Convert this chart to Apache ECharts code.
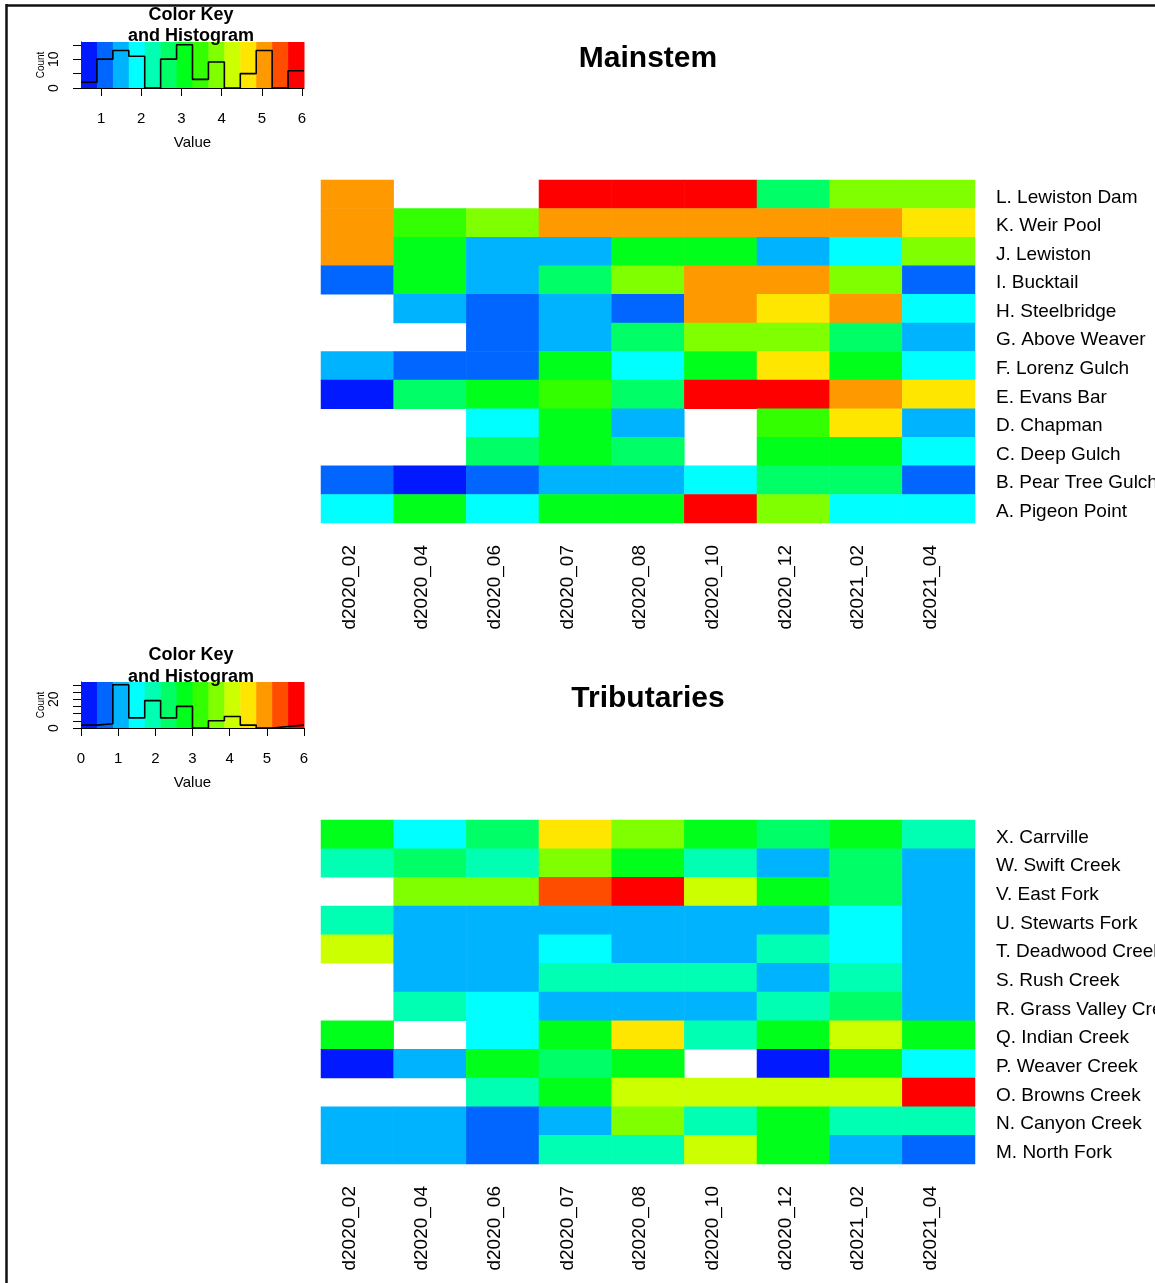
<!DOCTYPE html>
<html>
<head>
<meta charset="utf-8">
<script src="https://cdn.jsdelivr.net/npm/echarts@6/dist/echarts.min.js"></script>
<style>
  html, body { margin: 0; padding: 0; background: #fff; }
  #chart { width: 1155px; height: 1283px; }
</style>
</head>
<body>
<div id="chart"></div>
<script>
// Sampling dates (columns of both heatmaps)
const dates = ['d2020_02', 'd2020_04', 'd2020_06', 'd2020_07', 'd2020_08',
               'd2020_10', 'd2020_12', 'd2021_02', 'd2021_04'];

// Mainstem sites, top to bottom
const mainRows = ['L. Lewiston Dam', 'K. Weir Pool', 'J. Lewiston', 'I. Bucktail',
                  'H. Steelbridge', 'G. Above Weaver', 'F. Lorenz Gulch', 'E. Evans Bar',
                  'D. Chapman', 'C. Deep Gulch', 'B. Pear Tree Gulch', 'A. Pigeon Point'];

// Mainstem values (null = not sampled)
const mainValues = [
  [5.02, null, null, 5.93, 5.81, 5.88, 2.71, 3.84, 3.90],
  [5.10, 3.41, 3.79, 5.05, 4.98, 5.12, 5.07, 4.95, 4.70],
  [5.15, 3.02, 1.52, 1.45, 3.11, 3.06, 1.40, 1.93, 3.95],
  [1.10, 3.14, 1.56, 2.66, 3.82, 5.01, 5.09, 3.88, 1.04],
  [null, 1.47, 1.13, 1.51, 1.08, 4.97, 4.62, 5.06, 1.85],
  [null, null, 1.02, 1.58, 2.59, 3.93, 3.86, 2.74, 1.43],
  [1.49, 1.15, 1.07, 3.00, 1.96, 3.17, 4.71, 3.09, 1.80],
  [0.50, 2.62, 3.04, 3.52, 2.77, 6.05, 5.90, 5.14, 4.58],
  [null, null, 1.88, 2.95, 1.55, null, 3.44, 4.66, 1.36],
  [null, null, 2.69, 3.21, 2.80, null, 3.12, 2.98, 1.99],
  [1.18, 0.79, 0.99, 1.62, 1.41, 2.02, 2.57, 2.83, 1.11],
  [1.91, 3.07, 1.83, 3.19, 3.03, 5.76, 3.99, 1.77, 2.04]
];

// Tributary sites, top to bottom
const tribRows = ['X. Carrville', 'W. Swift Creek', 'V. East Fork', 'U. Stewarts Fork',
                  'T. Deadwood Creek', 'S. Rush Creek', 'R. Grass Valley Creek', 'Q. Indian Creek',
                  'P. Weaver Creek', 'O. Browns Creek', 'N. Canyon Creek', 'M. North Fork'];

// Tributary values (null = not sampled)
const tribValues = [
  [2.78, 1.52, 2.35, 4.52, 3.66, 2.84, 2.41, 2.72, 1.93],
  [1.88, 2.30, 1.97, 3.61, 2.69, 2.02, 1.12, 2.26, 1.05],
  [null, 3.58, 3.70, 5.35, 6.00, 4.05, 2.88, 2.44, 0.98],
  [1.84, 1.07, 1.15, 0.94, 1.09, 1.20, 1.02, 1.49, 1.13],
  [4.12, 1.18, 1.03, 1.41, 0.96, 1.10, 2.07, 1.58, 1.16],
  [null, 1.01, 1.22, 1.95, 1.90, 2.05, 0.92, 1.79, 1.08],
  [null, 1.86, 1.63, 1.14, 1.06, 0.99, 2.10, 2.21, 1.19],
  [2.66, null, 1.37, 2.93, 4.41, 1.76, 2.75, 3.98, 2.62],
  [0.00, 1.24, 2.81, 2.49, 2.97, null, 0.18, 2.70, 1.55],
  [null, null, 2.00, 2.86, 4.20, 3.93, 4.08, 4.15, 5.84],
  [1.11, 0.90, 0.62, 1.25, 3.77, 1.82, 2.59, 2.09, 1.99],
  [1.04, 1.17, 0.71, 1.78, 2.08, 3.89, 2.90, 1.23, 0.55]
];

// Colour key: 14 rainbow steps, low (blue) to high (red)
const palette = ['#0019FF', '#0066FF', '#00B3FF', '#00FFFF', '#00FFB3', '#00FF66', '#00FF1A',
                 '#33FF00', '#80FF00', '#CCFF00', '#FFE600', '#FF9900', '#FF4D00', '#FF0000'];

// Key axis ticks
const mainKeyTicks = [1, 2, 3, 4, 5, 6];
const tribKeyTicks = [0, 1, 2, 3, 4, 5, 6];
const mainCountLabels = [0, 10];
const tribCountLabels = [0, 20];

const FONT = '"Liberation Sans", Arial, Helvetica, sans-serif';

function histogram(values, nBins) {
  const flat = values.flat().filter(v => v !== null);
  const min = Math.min(...flat), max = Math.max(...flat);
  const w = (max - min) / nBins;
  const edges = [];
  for (let k = 0; k <= nBins; k++) edges.push(min + k * w);
  edges[nBins] = max;
  const counts = new Array(nBins).fill(0);
  flat.forEach(v => {
    const k = Math.min(nBins - 1, Math.floor((v - min) / w));
    counts[k]++;
  });
  return { min, max, edges, counts };
}

function cells(values) {
  const out = [];
  values.forEach((row, r) => row.forEach((v, c) => {
    if (v !== null) out.push([c, r, v]);
  }));
  return out;
}

function pieces(h) {
  return palette.map((color, k) => k === palette.length - 1
    ? { gte: h.edges[k], lte: h.edges[k + 1] + 1e-9, color }
    : { gte: h.edges[k], lt: h.edges[k + 1], color });
}

const mainHist = histogram(mainValues, palette.length);
const tribHist = histogram(tribValues, palette.length);

function keyAxes(h, gridIndex, ticks, countLabels) {
  const yMax = Math.max(...h.counts) / 0.94;
  const x = {
    type: 'value', gridIndex, min: h.min, max: h.max,
    axisLine: { show: true, lineStyle: { color: '#000', width: 1 } },
    axisTick: { show: true, customValues: ticks, length: 8, lineStyle: { color: '#000', width: 1 } },
    axisLabel: { customValues: ticks, margin: 23, fontSize: 15, color: '#000', fontFamily: FONT },
    splitLine: { show: false },
    name: 'Value', nameLocation: 'middle', nameGap: 47,
    nameTextStyle: { fontSize: 15, color: '#000', fontFamily: FONT }
  };
  const y = {
    type: 'value', gridIndex, min: 0, max: yMax, interval: 5,
    axisLine: { show: true, lineStyle: { color: '#000', width: 1 } },
    axisTick: { show: true, length: 8, lineStyle: { color: '#000', width: 1 } },
    axisLabel: {
      rotate: 90, margin: 20, fontSize: 14, color: '#000', fontFamily: FONT,
      showMaxLabel: false,
      formatter: v => countLabels.includes(v) ? String(v) : ''
    },
    splitLine: { show: false },
    name: 'Count', nameLocation: 'middle', nameRotate: 90, nameGap: 34,
    nameTextStyle: { fontSize: 10, color: '#000', fontFamily: FONT }
  };
  return { x, y, yMax };
}

function keySeries(h, axisIndex, yMax) {
  const bands = {
    type: 'custom', xAxisIndex: axisIndex, yAxisIndex: axisIndex, silent: true,
    clip: false, z: 1,
    encode: { x: [0, 1], y: 2 },
    data: h.counts.map((_, k) => [h.edges[k], h.edges[k + 1], k]),
    renderItem: (params, api) => {
      const p0 = api.coord([api.value(0), yMax]);
      const p1 = api.coord([api.value(1), 0]);
      return {
        type: 'rect',
        shape: { x: p0[0], y: p0[1], width: p1[0] - p0[0] + 0.5, height: p1[1] - p0[1] },
        style: { fill: palette[api.value(2)] }
      };
    }
  };
  const stepPts = h.counts.map((c, k) => [h.edges[k], c]);
  stepPts.push([h.edges[h.edges.length - 1], h.counts[h.counts.length - 1]]);
  const line = {
    type: 'line', xAxisIndex: axisIndex, yAxisIndex: axisIndex, silent: true,
    step: 'end', showSymbol: false, symbol: 'none', clip: false, z: 3,
    lineStyle: { color: '#000', width: 1.6 },
    data: stepPts
  };
  return [bands, line];
}

function heatAxes(rows, gridIndex) {
  const x = {
    type: 'category', gridIndex, data: dates,
    axisLine: { show: false }, axisTick: { show: false }, splitLine: { show: false },
    axisLabel: {
      rotate: 90, margin: 22, fontSize: 19, color: '#000', fontFamily: FONT,
      interval: 0, verticalAlign: 'bottom', lineHeight: 16
    }
  };
  const y = {
    type: 'category', gridIndex, data: rows, inverse: true, position: 'right',
    axisLine: { show: false }, axisTick: { show: false }, splitLine: { show: false },
    axisLabel: {
      margin: 21, fontSize: 19, color: '#000', fontFamily: FONT, interval: 0,
      align: 'left', verticalAlign: 'top', lineHeight: 6
    }
  };
  return { x, y };
}

function heatSeries(values, axisIndex) {
  return {
    type: 'heatmap', xAxisIndex: axisIndex, yAxisIndex: axisIndex,
    data: cells(values), silent: true,
    itemStyle: { borderWidth: 0 },
    emphasis: { disabled: true }
  };
}

const mk = keyAxes(mainHist, 0, mainKeyTicks, mainCountLabels);
const mh = heatAxes(mainRows, 1);
const tk = keyAxes(tribHist, 2, tribKeyTicks, tribCountLabels);
const th = heatAxes(tribRows, 3);

function titleText(text, x, y, size) {
  return {
    type: 'text', x, y, z: 100,
    style: { text, fill: '#000', font: `bold ${size}px ${FONT}`, align: 'center', verticalAlign: 'middle' }
  };
}

const option = {
  animation: false,
  backgroundColor: '#fff',
  grid: [
    { left: 81, top: 42, width: 223, height: 46, outerBoundsMode: 'none', containLabel: false },
    { left: 321, top: 180, width: 654, height: 343, outerBoundsMode: 'none', containLabel: false },
    { left: 81, top: 682, width: 223, height: 46, outerBoundsMode: 'none', containLabel: false },
    { left: 321, top: 820, width: 654, height: 344, outerBoundsMode: 'none', containLabel: false }
  ],
  xAxis: [mk.x, mh.x, tk.x, th.x],
  yAxis: [mk.y, mh.y, tk.y, th.y],
  visualMap: [
    { type: 'piecewise', show: false, seriesIndex: 2, dimension: 2, pieces: pieces(mainHist) },
    { type: 'piecewise', show: false, seriesIndex: 5, dimension: 2, pieces: pieces(tribHist) }
  ],
  series: [
    ...keySeries(mainHist, 0, mk.yMax),
    heatSeries(mainValues, 1),
    ...keySeries(tribHist, 2, tk.yMax),
    heatSeries(tribValues, 3)
  ],
  graphic: [
    titleText('Color Key', 191, 15, 18),
    titleText('and Histogram', 191, 36, 18),
    titleText('Mainstem', 648, 59, 30),
    titleText('Color Key', 191, 655, 18),
    titleText('and Histogram', 191, 677, 18),
    titleText('Tributaries', 648, 699, 30),
    { type: 'line', z: 100, shape: { x1: 6, y1: 5.5, x2: 1155, y2: 5.5 }, style: { stroke: '#111', lineWidth: 2.5 } },
    { type: 'line', z: 100, shape: { x1: 6.5, y1: 4, x2: 6.5, y2: 1283 }, style: { stroke: '#111', lineWidth: 2.5 } }
  ]
};

const chart = echarts.init(document.getElementById('chart'), null, { renderer: 'canvas' });
chart.setOption(option);
</script>
</body>
</html>
